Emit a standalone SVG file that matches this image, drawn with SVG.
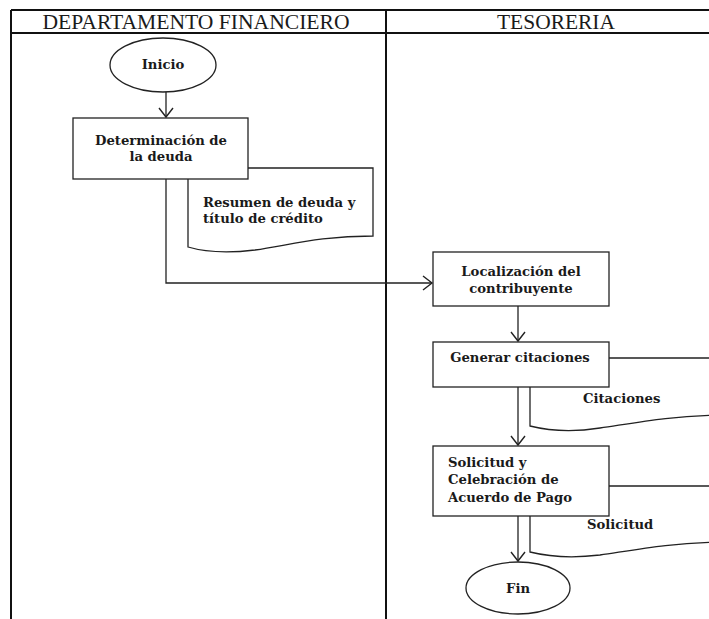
<svg xmlns="http://www.w3.org/2000/svg" width="709" height="619" viewBox="0 0 709 619">
<style>
.lane{stroke:#111;stroke-width:2;fill:none}
.hdr{font-family:"Liberation Serif","DejaVu Serif",serif;font-size:20px;fill:#1a1a1a}
.box{fill:#fff;stroke:#222;stroke-width:1.3}
.doc{fill:#fff;stroke:#222;stroke-width:1.3}
.t{font-family:"DejaVu Serif","Liberation Serif",serif;font-size:13.2px;font-weight:bold;fill:#1a1a1a}
.c{text-anchor:middle}
.con{fill:none;stroke:#222;stroke-width:1.3}
</style>
<defs>
<marker id="ah" markerUnits="userSpaceOnUse" markerWidth="12" markerHeight="16" refX="10" refY="8" orient="auto">
<path d="M1,1 L10,8 L1,15" fill="none" stroke="#222" stroke-width="1.4"/>
</marker>
</defs>
<g id="lanes">
<path class="lane" d="M11,10 H709 M11,33 H709 M11,10 V619 M386,10 V619"/>
<text class="hdr c" x="196" y="29" textLength="307" lengthAdjust="spacingAndGlyphs">DEPARTAMENTO FINANCIERO</text>
<text class="hdr c" x="556" y="29" textLength="118" lengthAdjust="spacingAndGlyphs">TESORERIA</text>
</g>
<g id="connectors">
<path class="con" d="M166,92 V117" marker-end="url(#ah)"/>
<path class="con" d="M166,179 V283 H432" marker-end="url(#ah)"/>
<path class="con" d="M518,306 V341" marker-end="url(#ah)"/>
<path class="con" d="M518,387 V445" marker-end="url(#ah)"/>
<path class="con" d="M518,516 V561" marker-end="url(#ah)"/>
</g>
<g id="inicio">
<ellipse class="box" cx="163" cy="65" rx="53" ry="27"/>
<text class="t c" x="163" y="69">Inicio</text>
</g>
<g id="doc-resumen">
<path class="doc" d="M188,168 H373 V236 C320,236 290,245 255,250 C230,253 205,252 188,247 Z"/>
<text class="t" x="203" y="207">Resumen de deuda y</text>
<text class="t" x="203" y="223">título de crédito</text>
</g>
<g id="determinacion">
<rect class="box" x="73" y="118" width="175" height="61"/>
<text class="t c" x="161" y="145">Determinación de</text>
<text class="t c" x="161" y="161">la deuda</text>
</g>
<g id="localizacion">
<rect class="box" x="433" y="252" width="176" height="54"/>
<text class="t c" x="521" y="276">Localización del</text>
<text class="t c" x="521" y="293">contribuyente</text>
</g>
<g id="doc-citaciones">
<path class="doc" d="M720,358 H530 V426 C550,431 575,432 600,428 C640,422 670,416 720,415"/>
<text class="t" x="583" y="403">Citaciones</text>
</g>
<g id="generar">
<rect class="box" x="433" y="342" width="176" height="45"/>
<text class="t c" x="520" y="362">Generar citaciones</text>
</g>
<g id="doc-solicitud">
<path class="doc" d="M720,486 H530 V552 C550,557 575,558 600,555 C640,549 670,543 720,542"/>
<text class="t" x="587" y="529">Solicitud</text>
</g>
<g id="solicitud">
<rect class="box" x="433" y="446" width="176" height="70"/>
<text class="t" x="448" y="467">Solicitud y</text>
<text class="t" x="448" y="484">Celebración de</text>
<text class="t" x="448" y="502">Acuerdo de Pago</text>
</g>
<g id="fin">
<ellipse class="box" cx="518" cy="588" rx="52" ry="26"/>
<text class="t c" x="518" y="593">Fin</text>
</g>
</svg>
